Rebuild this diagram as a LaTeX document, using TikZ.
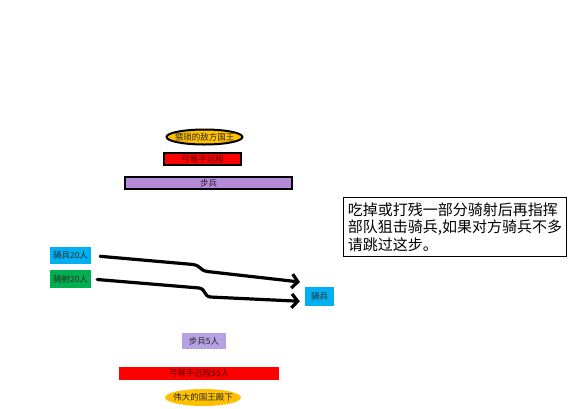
\documentclass[tikz,border=0pt]{standalone}
\usepackage{fontspec}
\newfontfamily\cjk{Noto Sans CJK SC}
\usepackage{tikz}
\usetikzlibrary{shapes.geometric}
\usetikzlibrary{arrows.meta}
\definecolor{kinggold}{HTML}{FFC000}
\definecolor{bowred}{HTML}{FF0000}
\definecolor{footpurple}{HTML}{B58AD9}
\definecolor{lightpurple}{HTML}{B6A2E2}
\definecolor{cavblue}{HTML}{00B0F0}
\definecolor{archgreen}{HTML}{00B050}
\tikzset{
unit/.style={ % Sets the properties for each troop block
rectangle,
inner sep=0pt,
font=\fontsize{8.5}{9}\cjk,
text=black!85},
framed/.style={ % Black outline of the enemy lines
draw=black,
line width=2pt},
royal/.style={ % The two kings
unit,
ellipse,
inner xsep=-5pt, inner ysep=-2pt, % keep the ellipse tight round its text
fill=kinggold},
march/.style={ % Thick curved attack arrows
draw,
line width=3.2pt,
line cap=round,
-{Straight Barb[length=6pt,width=14pt]}}}

\begin{document}
\begin{tikzpicture}[x=1pt, y=-1pt]
\useasboundingbox (0,0) rectangle (584,408);
\node[royal, framed, minimum width=76pt, minimum height=15pt] (enemyking) at (204.5,137) {猥琐的敌方国王};
\node[unit, framed, fill=bowred, text=black!70!red, minimum width=77pt, minimum height=12pt] (enemybow) at (202.5,159) {弓弩手远程};
\node[unit, framed, fill=footpurple, text=black!80!footpurple, minimum width=167pt, minimum height=12pt] (enemyfoot) at (208.5,183) {步兵};
\node[unit, fill=cavblue, minimum width=41pt, minimum height=17pt] (ourcav) at (70.5,255.5) {骑兵20人};
\node[unit, fill=archgreen, minimum width=41pt, minimum height=18pt] (ourarch) at (70.5,279) {骑射20人};
\node[unit, fill=cavblue, minimum width=29pt, minimum height=19pt] (enemycav) at (319.5,296.5) {骑兵};
\node[unit, fill=lightpurple, minimum width=44pt, minimum height=16pt] (ourfoot) at (204,341) {步兵5人};
\node[unit, fill=bowred, text=black!70!red, minimum width=160pt, minimum height=13pt] (ourbow) at (199,373.5) {弓弩手远程55人};
\node[royal, minimum width=76pt, minimum height=17pt] (ourking) at (203,397.5) {伟大的国王殿下};
\node[draw, line width=1.6pt, minimum width=223pt, minimum height=59pt, inner xsep=4pt, align=left,
  font=\fontsize{15}{17.5}\cjk] (note) at (455,227) {吃掉或打残一部分骑射后再指挥\\部队狙击骑兵,如果对方骑兵不多\\请跳过这步。};
\coordinate (tipa) at (300,282);
\draw[march, shorten <=9pt] (ourcav.east) -- ++(102,9) .. controls +(8,1.5) and +(-8,-1.5) .. ++(14,7) -- (tipa);
\draw[march, shorten <=6pt, shorten >=5pt] (ourarch.east) -- ++(108,9) .. controls +(7,1.5) and +(-7,-1.5) .. ++(11,9) -- ([yshift=-5pt]enemycav.west);
\end{tikzpicture}
\end{document}
